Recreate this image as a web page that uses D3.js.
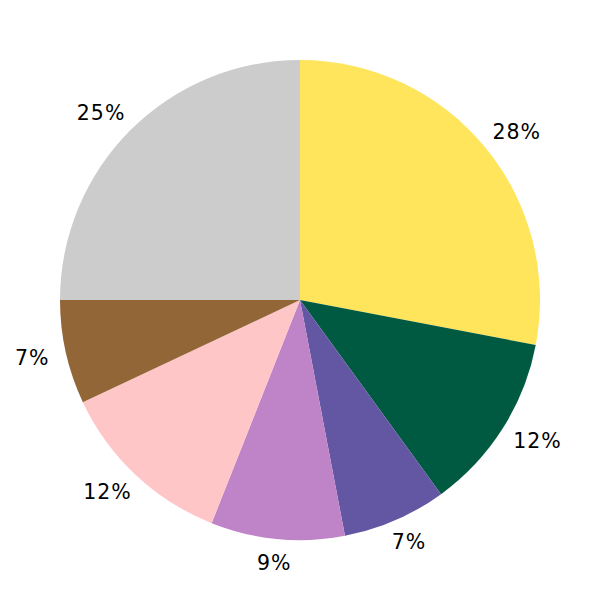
<!DOCTYPE html>
<html>
<head>
<meta charset="utf-8">
<script src="https://cdn.jsdelivr.net/npm/d3@7"></script>
<style>
  html, body { margin: 0; padding: 0; background: #fff; }
</style>
</head>
<body>
<div id="chart"></div>
<script>
// Slice data, clockwise from 12 o'clock
const categories = ['A', 'B', 'C', 'D', 'E', 'F', 'G'];
const values = [28, 12, 7, 9, 12, 7, 25];
const colors = ['#ffe55c', '#005a41', '#6356a3', '#bf83c8', '#ffc6c8', '#936638', '#cccccc'];

const width = 600;
const height = 600;
const cx = width / 2;
const cy = height / 2;
const radius = 240;

const svg = d3.select('#chart')
    .append('svg')
    .attr('width', width)
    .attr('height', height);

const g = svg.append('g')
    .attr('transform', `translate(${cx}, ${cy})`);

const data = categories.map((c, i) => ({ name: c, value: values[i], color: colors[i] }));
const total = d3.sum(values);

const pie = d3.pie()
    .value(d => d.value)
    .sort(null);

const arc = d3.arc()
    .innerRadius(0)
    .outerRadius(radius);

const arcs = pie(data);

// Slices
g.selectAll('path')
    .data(arcs)
    .enter()
    .append('path')
    .attr('d', arc)
    .attr('fill', d => d.data.color);

// Percent labels, pushed just outside the pie so their box clears the edge
const labelRadius = 257;
const halfHeight = 7;

g.selectAll('text')
    .data(arcs)
    .enter()
    .append('text')
    .attr('text-anchor', 'middle')
    .attr('dominant-baseline', 'central')
    .attr('font-family', 'DejaVu Sans, sans-serif')
    .attr('font-size', '20.5px')
    .attr('letter-spacing', '1px')
    .attr('fill', '#000')
    .text(d => Math.round(d.data.value / total * 100) + '%')
    .each(function(d) {
        const mid = (d.startAngle + d.endAngle) / 2;
        const halfWidth = this.getBBox().width / 2;
        const x = Math.sin(mid) * (labelRadius + halfWidth);
        const y = -Math.cos(mid) * (labelRadius + halfHeight);
        d3.select(this).attr('x', x).attr('y', y);
    });
</script>
</body>
</html>
